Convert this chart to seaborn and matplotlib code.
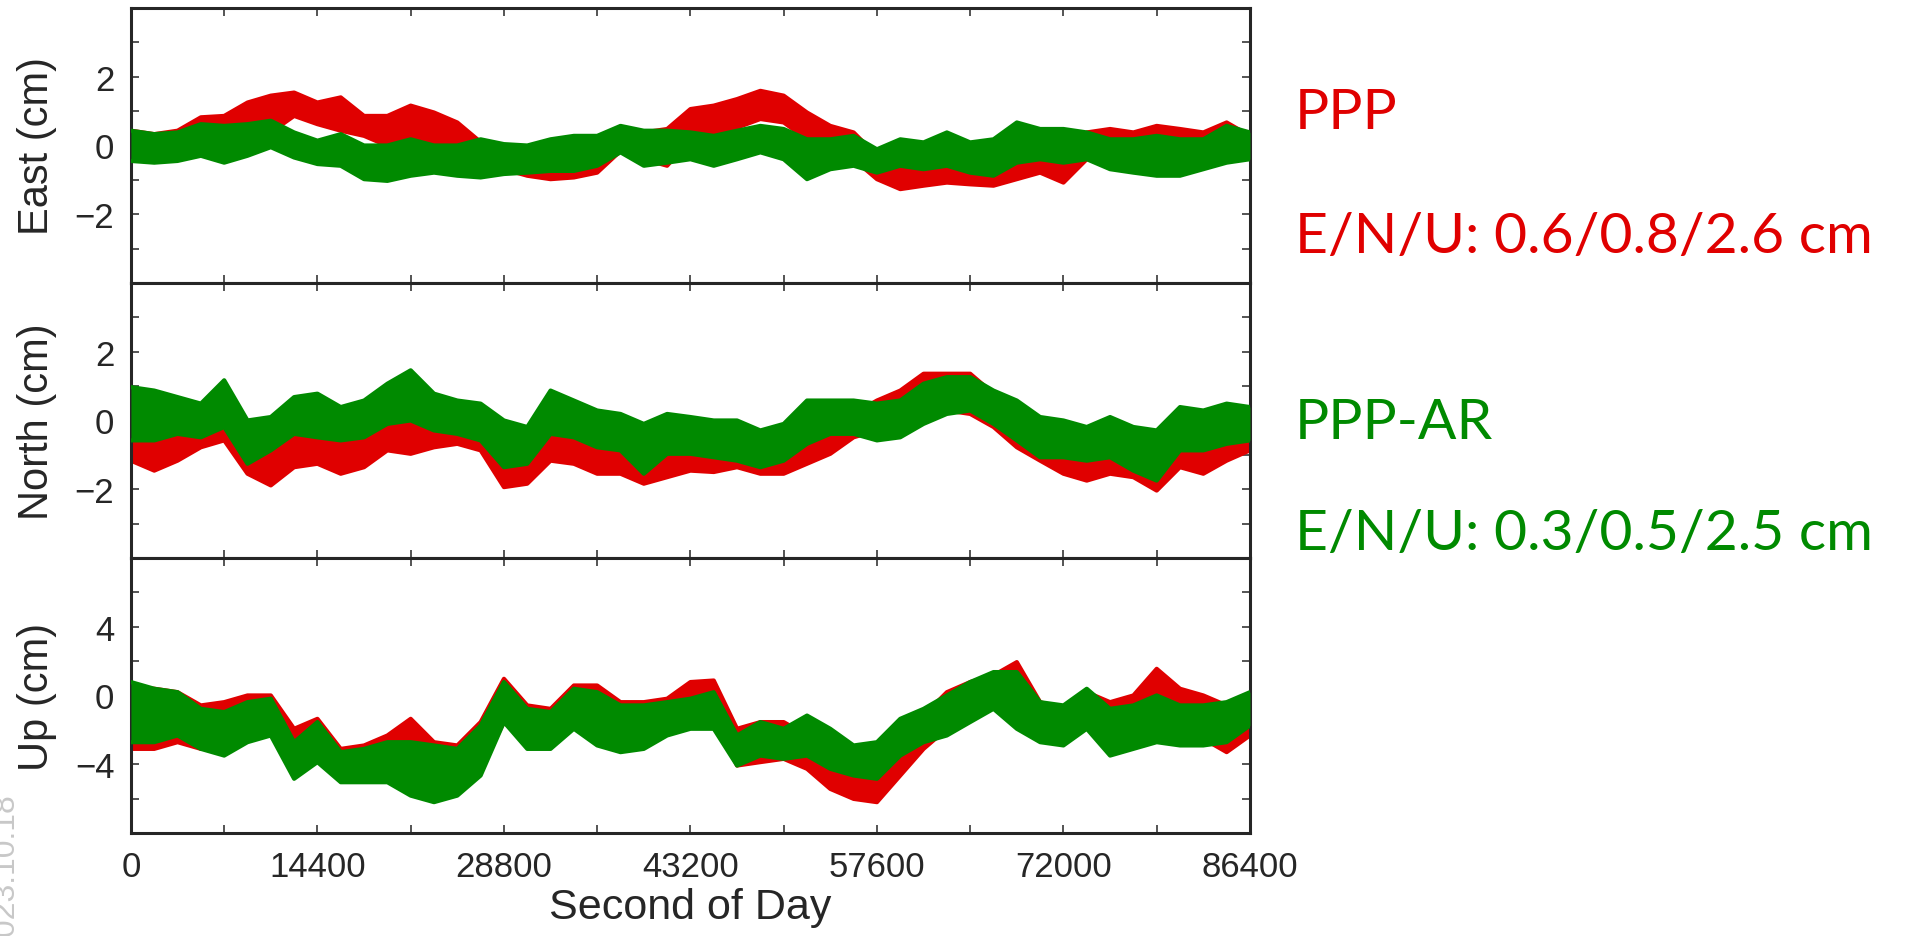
import matplotlib
matplotlib.use("Agg")
import matplotlib.pyplot as plt
import numpy as np
import seaborn as sns

# second of day, one sample every 1800 s (band edges)
sod = np.arange(0, 86401, 1800)

# East (cm): lower / upper edge of each band
east_ppp_hi = [0.43, 0.33, 0.43, 0.82, 0.86, 1.25, 1.45, 1.54, 1.25, 1.40, 0.86, 0.86, 1.16,
               0.96, 0.67, 0.10, -0.01, -0.11, -0.20, -0.11, -0.01, 0.52, 0.38, 0.48, 1.06,
               1.16, 1.35, 1.59, 1.45, 0.96, 0.57, 0.38, -0.30, -0.50, -0.50, -0.40, -0.50,
               -0.50, -0.20, -0.11, -0.20, 0.38, 0.48, 0.38, 0.57, 0.48, 0.38, 0.67, 0.28]
east_ppp_lo = [-0.40, -0.30, -0.20, -0.01, 0.09, 0.28, 0.38, 0.86, 0.62, 0.43, 0.28, -0.01, 0.28,
               0.09, -0.11, -0.59, -0.69, -0.88, -0.98, -0.93, -0.79, -0.16, -0.40, -0.59, 0.18,
               0.38, 0.52, 0.77, 0.67, 0.18, -0.11, -0.40, -0.98, -1.27, -1.17, -1.08, -1.13,
               -1.17, -0.98, -0.79, -1.08, -0.40, -0.20, -0.20, -0.30, -0.30, -0.20, -0.11, -0.30]
east_ar_hi = [0.43, 0.33, 0.38, 0.62, 0.57, 0.62, 0.72, 0.38, 0.14, 0.33, 0.00, 0.00, 0.18,
              0.00, 0.00, 0.18, 0.04, 0.00, 0.18, 0.28, 0.28, 0.57, 0.43, 0.43, 0.38,
              0.28, 0.43, 0.57, 0.48, 0.18, 0.18, 0.28, -0.11, 0.18, 0.09, 0.38, 0.09,
              0.18, 0.67, 0.48, 0.48, 0.38, 0.18, 0.18, 0.28, 0.18, 0.18, 0.57, 0.38]
east_ar_lo = [-0.45, -0.50, -0.45, -0.30, -0.50, -0.30, -0.05, -0.35, -0.54, -0.59, -0.98, -1.03, -0.88,
              -0.79, -0.88, -0.93, -0.83, -0.79, -0.74, -0.74, -0.59, -0.20, -0.59, -0.50, -0.40,
              -0.59, -0.40, -0.20, -0.40, -0.98, -0.69, -0.59, -0.79, -0.59, -0.69, -0.59, -0.79,
              -0.88, -0.50, -0.40, -0.50, -0.40, -0.69, -0.79, -0.88, -0.88, -0.69, -0.50, -0.40]

# North (cm)
north_ppp_hi = [0.00, -0.10, -0.19, -0.19, 0.10, -0.58, -0.78, -0.39, -0.29, -0.49, -0.19, 0.10, 0.19,
                0.10, -0.10, -0.19, -0.58, -0.78, 0.00, -0.19, -0.49, -0.58, -0.78, -0.58, -0.58,
                -0.39, -0.39, -0.58, -0.49, -0.39, 0.00, 0.19, 0.58, 0.87, 1.36, 1.36, 1.36,
                0.78, 0.39, -0.29, -0.58, -0.78, -0.58, -0.68, -0.87, -0.39, -0.39, -0.39, -0.29]
north_ppp_lo = [-1.17, -1.46, -1.17, -0.78, -0.58, -1.55, -1.89, -1.36, -1.26, -1.55, -1.36, -0.87, -0.97,
                -0.78, -0.68, -0.87, -1.94, -1.84, -1.17, -1.26, -1.55, -1.55, -1.84, -1.65, -1.46,
                -1.50, -1.36, -1.55, -1.55, -1.26, -0.97, -0.49, -0.29, 0.00, 0.19, 0.29, 0.19,
                -0.19, -0.78, -1.17, -1.55, -1.75, -1.55, -1.65, -2.04, -1.36, -1.55, -1.17, -0.87]
north_ar_hi = [0.97, 0.87, 0.68, 0.49, 1.17, 0.00, 0.10, 0.68, 0.78, 0.39, 0.58, 1.07, 1.46,
               0.78, 0.58, 0.49, 0.00, -0.19, 0.87, 0.58, 0.29, 0.19, -0.10, 0.19, 0.10,
               0.00, 0.00, -0.29, -0.10, 0.58, 0.58, 0.58, 0.49, 0.58, 1.07, 1.26, 1.26,
               0.87, 0.58, 0.10, 0.00, -0.19, 0.10, -0.19, -0.29, 0.39, 0.29, 0.49, 0.39]
north_ar_lo = [-0.58, -0.58, -0.39, -0.49, -0.19, -1.26, -0.87, -0.39, -0.49, -0.58, -0.49, -0.10, 0.00,
               -0.29, -0.39, -0.58, -1.36, -1.26, -0.39, -0.49, -0.78, -0.87, -1.55, -0.97, -0.97,
               -1.07, -1.17, -1.36, -1.17, -0.68, -0.39, -0.39, -0.58, -0.49, -0.10, 0.19, 0.29,
               -0.10, -0.58, -1.07, -1.07, -1.17, -1.07, -1.46, -1.75, -0.87, -0.87, -0.68, -0.58]

# Up (cm)
up_ppp_hi = [0.39, 0.39, 0.19, -0.58, -0.39, 0.00, 0.00, -1.94, -1.36, -3.11, -2.91, -2.33, -1.36,
             -2.72, -2.91, -1.55, 0.97, -0.58, -0.78, 0.58, 0.58, -0.39, -0.39, -0.19, 0.78,
             0.87, -1.94, -1.55, -1.55, -2.33, -3.11, -3.50, -3.11, -2.33, -1.17, 0.19, 0.78,
             1.17, 1.94, -0.39, -0.78, 0.19, -0.39, 0.00, 1.55, 0.39, 0.00, -0.58, -0.39]
up_ppp_lo = [-3.11, -3.11, -2.72, -3.11, -3.11, -2.33, -2.14, -3.11, -3.11, -4.27, -4.66, -4.85, -5.05,
             -5.05, -4.85, -4.27, -1.55, -2.72, -2.72, -1.75, -1.55, -2.72, -2.33, -2.14, -1.17,
             -1.17, -4.08, -3.88, -3.69, -4.27, -5.44, -6.02, -6.21, -4.66, -3.11, -1.94, -1.36,
             -0.58, -1.75, -2.52, -2.33, -1.75, -2.33, -1.94, -0.78, -1.75, -2.52, -3.30, -2.33]
up_ar_hi = [0.78, 0.39, 0.19, -0.78, -0.97, -0.39, -0.19, -2.72, -1.55, -3.30, -3.11, -2.72, -2.72,
            -2.91, -3.11, -1.75, 0.78, -0.78, -0.97, 0.39, 0.19, -0.58, -0.58, -0.39, -0.19,
            0.19, -2.33, -1.55, -1.94, -1.17, -1.94, -2.91, -2.72, -1.36, -0.78, 0.00, 0.78,
            1.36, 1.36, -0.39, -0.58, 0.39, -0.78, -0.58, 0.00, -0.58, -0.58, -0.39, 0.19]
up_ar_lo = [-2.72, -2.72, -2.33, -3.11, -3.50, -2.72, -2.33, -4.85, -3.88, -5.05, -5.05, -5.05, -5.83,
            -6.21, -5.83, -4.66, -1.55, -3.11, -3.11, -1.94, -2.91, -3.30, -3.11, -2.33, -1.94,
            -1.94, -4.08, -3.50, -3.69, -3.50, -4.27, -4.66, -4.85, -3.50, -2.72, -2.33, -1.55,
            -0.78, -1.94, -2.72, -2.91, -1.94, -3.50, -3.11, -2.72, -2.91, -2.91, -2.72, -1.75]

x_ticks = [0, 14400, 28800, 43200, 57600, 72000, 86400]
ppp_label = "E/N/U: 0.6/0.8/2.6 cm"
ar_label = "E/N/U: 0.3/0.5/2.5 cm"

RED = "#e00000"
GREEN = "#008a00"

sns.set_style("ticks")
plt.rcParams["font.family"] = ["Liberation Sans", "DejaVu Sans"]
plt.rcParams["axes.linewidth"] = 2.2
plt.rcParams["axes.unicode_minus"] = True

fig = plt.figure(figsize=(19.06, 9.37), dpi=100)
gs = fig.add_gridspec(3, 1, left=0.0687, right=0.6558, top=0.9904, bottom=0.110, hspace=0)
axes = [fig.add_subplot(gs[i]) for i in range(3)]

panels = [
    ("East (cm)", east_ppp_lo, east_ppp_hi, east_ar_lo, east_ar_hi, 4, [-2, 0, 2], [-3, -1, 1, 3]),
    ("North (cm)", north_ppp_lo, north_ppp_hi, north_ar_lo, north_ar_hi, 4, [-2, 0, 2], [-3, -1, 1, 3]),
    ("Up (cm)", up_ppp_lo, up_ppp_hi, up_ar_lo, up_ar_hi, 8, [-4, 0, 4], [-6, -2, 2, 6]),
]


def draw_band(ax, lo, hi, color, z):
    ax.fill_between(sod, lo, hi, color=color, lw=0, zorder=z)
    sns.lineplot(x=sod, y=lo, ax=ax, color=color, lw=3, zorder=z + 0.5)
    sns.lineplot(x=sod, y=hi, ax=ax, color=color, lw=3, zorder=z + 0.5)


for ax, (label, p_lo, p_hi, a_lo, a_hi, lim, major, minor) in zip(axes, panels):
    draw_band(ax, p_lo, p_hi, RED, 2)
    draw_band(ax, a_lo, a_hi, GREEN, 3)

    ax.set_xlim(0, 86400)
    ax.set_ylim(-lim, lim)
    ax.set_xticks(x_ticks)
    ax.set_xticks(np.arange(7200, 86400, 14400), minor=True)
    ax.set_yticks(major)
    ax.set_yticks(minor, minor=True)
    ax.tick_params(which="both", direction="in", top=True, right=True,
                   length=6, width=1.1, labelsize=25, pad=12)
    ax.set_ylabel("")
    ax.set_xlabel("")
    y_mid = (ax.get_position().y0 + ax.get_position().y1) / 2
    fig.text(0.0195, y_mid, label, rotation=90, ha="center", va="center", fontsize=30)

for ax in axes[:2]:
    ax.tick_params(labelbottom=False)

axes[2].set_xlabel("Second of Day", fontsize=31, labelpad=3)

# annotation on the right
txt_font = ["Lato", "DejaVu Sans"]
fig.text(0.6794, 0.8623, "PPP", color=RED, fontsize=41, family=txt_font, va="baseline")
fig.text(0.6794, 0.730, ppp_label, color=RED, fontsize=41, family=txt_font, va="baseline")
fig.text(0.6794, 0.5315, "PPP-AR", color=GREEN, fontsize=41, family=txt_font, va="baseline")
fig.text(0.6794, 0.413, ar_label, color=GREEN, fontsize=41, family=txt_font, va="baseline")

# faint date stamp at lower left
fig.text(0.0028, 0.068, "2023.10.18", rotation=90, ha="center", va="center",
         fontsize=23, color="#c8c8c8")

fig.savefig("out.png", dpi=100)
